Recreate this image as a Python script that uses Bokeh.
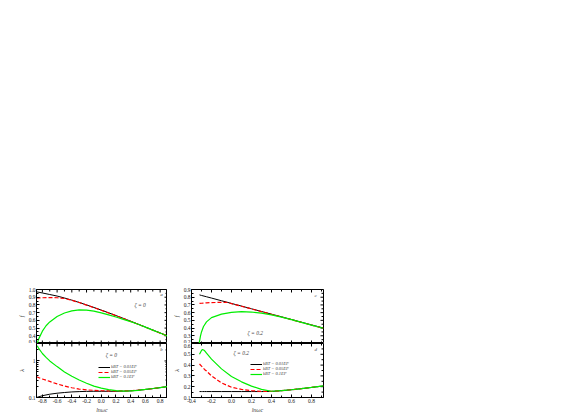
import math
from bokeh.plotting import figure
from bokeh.models import (Range1d, Label, Legend, LegendItem, Spacer, FixedTicker, NumeralTickFormatter)
from bokeh.layouts import column, row
from bokeh.embed import file_html
from bokeh.resources import INLINE

# ---------------- data ----------------
# panel a : zeta = 0, f vs ln(omega_c)
xa = [-0.88, -0.8, -0.7, -0.6, -0.5, -0.4, -0.3, -0.2, -0.1, 0.0, 0.1, 0.2, 0.3, 0.4, 0.5, 0.6, 0.7, 0.8, 0.9]
fa_001 = [0.97, 0.955, 0.935, 0.915, 0.89, 0.862, 0.832, 0.80, 0.767, 0.733, 0.698, 0.662, 0.626, 0.589, 0.551, 0.513, 0.475, 0.437, 0.398]
fa_005 = [0.89, 0.893, 0.895, 0.893, 0.883, 0.860, 0.831, 0.798, 0.765, 0.731, 0.696, 0.660, 0.624, 0.587, 0.549, 0.511, 0.473, 0.435, 0.396]
xa_g = [-0.87, -0.85, -0.8, -0.75, -0.7, -0.6, -0.5, -0.4, -0.3, -0.2, -0.1, 0.0, 0.1, 0.2, 0.3, 0.4, 0.5, 0.6, 0.7, 0.8, 0.9]
fa_01 = [0.30, 0.36, 0.46, 0.53, 0.58, 0.65, 0.695, 0.722, 0.735, 0.733, 0.72, 0.698, 0.672, 0.643, 0.612, 0.583, 0.549, 0.512, 0.474, 0.436, 0.397]

# panel b : zeta = 0, lambda vs ln(omega_c) (log axis)
lb_001 = [0.10, 0.112, 0.123, 0.131, 0.137, 0.142, 0.145, 0.147, 0.148, 0.148, 0.148, 0.148, 0.149, 0.152, 0.158, 0.166, 0.175, 0.186, 0.198]
lb_005 = [0.37, 0.32, 0.275, 0.235, 0.205, 0.185, 0.17, 0.162, 0.157, 0.154, 0.152, 0.151, 0.151, 0.153, 0.159, 0.167, 0.176, 0.187, 0.199]
lb_01 = [2.6, 2.2, 1.6, 1.25, 1.0, 0.7, 0.5, 0.38, 0.30, 0.245, 0.205, 0.18, 0.165, 0.155, 0.15, 0.151, 0.157, 0.166, 0.176, 0.187, 0.199]

# panel c : zeta = 0.2, f
xc = [-0.32, -0.3, -0.25, -0.2, -0.1, -0.05, 0.0, 0.1, 0.2, 0.3, 0.4, 0.5, 0.6, 0.7, 0.8, 0.92]
fc_001 = [0.83, 0.823, 0.806, 0.789, 0.754, 0.737, 0.719, 0.685, 0.65, 0.615, 0.58, 0.546, 0.511, 0.476, 0.441, 0.40]
fc_005 = [0.72, 0.722, 0.727, 0.731, 0.733, 0.735, 0.717, 0.683, 0.648, 0.613, 0.578, 0.544, 0.509, 0.474, 0.439, 0.398]
xc_g = [-0.325, -0.31, -0.3, -0.28, -0.25, -0.2, -0.1, 0.0, 0.1, 0.2, 0.3, 0.4, 0.5, 0.6, 0.7, 0.8, 0.92]
fc_01 = [0.19, 0.30, 0.35, 0.42, 0.48, 0.535, 0.58, 0.603, 0.613, 0.608, 0.593, 0.57, 0.542, 0.509, 0.474, 0.439, 0.398]

# panel d : zeta = 0.2, lambda
xd = [-0.32, -0.3, -0.29, -0.27, -0.25, -0.2, -0.1, 0.0, 0.1, 0.2, 0.3, 0.4, 0.5, 0.6, 0.7, 0.8, 0.92]
ld_001 = [0.155, 0.155, 0.155, 0.155, 0.155, 0.155, 0.155, 0.155, 0.155, 0.155, 0.155, 0.156, 0.163, 0.172, 0.182, 0.193, 0.207]
ld_005 = [0.41, 0.39, 0.38, 0.36, 0.345, 0.30, 0.235, 0.195, 0.175, 0.163, 0.157, 0.156, 0.163, 0.172, 0.182, 0.193, 0.207]
ld_01 = [0.50, 0.535, 0.545, 0.535, 0.51, 0.455, 0.365, 0.295, 0.245, 0.205, 0.175, 0.158, 0.163, 0.172, 0.182, 0.193, 0.207]

legend_labels = ["kBT = 0.01EF", "kBT = 0.05EF", "kBT = 0.1EF"]
zeta_labels = ["ζ = 0", "ζ = 0.2"]
panel_letters = ["a", "b", "c", "d"]

# tick positions
x_left_major = [-0.8, -0.6, -0.4, -0.2, 0.0, 0.2, 0.4, 0.6, 0.8]
x_left_minor = [-0.7, -0.5, -0.3, -0.1, 0.1, 0.3, 0.5, 0.7]
x_right_major = [-0.4, -0.2, 0.0, 0.2, 0.4, 0.6, 0.8]
x_right_minor = [-0.3, -0.1, 0.1, 0.3, 0.5, 0.7, 0.9]
ya_major = [0.3, 0.4, 0.5, 0.6, 0.7, 0.8, 0.9, 1.0]
ya_minor = [0.35, 0.45, 0.55, 0.65, 0.75, 0.85, 0.95]
yb_major = [0.1, 1.0]
yb_minor = [0.2, 0.3, 0.4, 0.5, 0.6, 0.7, 0.8, 0.9, 2.0, 3.0]
yc_major = [0.2, 0.3, 0.4, 0.5, 0.6, 0.7, 0.8, 0.9]
yc_minor = [0.25, 0.35, 0.45, 0.55, 0.65, 0.75, 0.85]
yd_major = [0.1, 0.2, 0.3, 0.4, 0.5, 0.6]
yd_minor = [0.15, 0.25, 0.35, 0.45, 0.55]

# ---------------- style ----------------
FONT = "Liberation Serif"
C_BLACK, C_RED, C_GREEN = "#000000", "#ff0000", "#00ee00"
TICK_FS = "5.5px"


def style_axis(ax, ticker, fmt):
    ax.ticker = ticker
    ax.major_tick_in = 3
    ax.major_tick_out = 0
    ax.minor_tick_in = 2
    ax.minor_tick_out = 0
    ax.axis_line_color = "black"
    ax.major_label_text_font = FONT
    ax.major_label_text_color = "#222222"
    ax.major_label_text_font_size = TICK_FS
    ax.major_label_standoff = 1
    ax.formatter = NumeralTickFormatter(format=fmt)
    ax.axis_label_text_font = FONT
    ax.axis_label_text_font_size = "6px"
    ax.axis_label_text_font_style = "italic"
    ax.axis_label_standoff = 1


def edge_ticks(p, xr, yr, xmaj, xmin, ymaj, ymin, edges):
    """inward tick marks on edges that have no real axis"""
    kw = dict(marker="dash", line_color="black", line_width=1)
    for e in edges:
        if e in ("top", "bottom"):
            yv = yr[1] if e == "top" else yr[0]
            p.scatter(xmaj, [yv] * len(xmaj), size=6, angle=math.pi / 2, **kw)
            p.scatter(xmin, [yv] * len(xmin), size=4, angle=math.pi / 2, **kw)
        else:
            xv = xr[1]
            p.scatter([xv] * len(ymaj), ymaj, size=6, **kw)
            p.scatter([xv] * len(ymin), ymin, size=4, **kw)


def make_fig(xr, yr, ylog, fw, fh, bl, br, bt, bb, xmaj, xmin, ymaj, ymin,
             show_x, ylabel, xlabel, yfmt):
    p = figure(frame_width=fw, frame_height=fh,
               x_range=Range1d(*xr), y_range=Range1d(*yr),
               y_axis_type="log" if ylog else "linear",
               x_axis_location="below" if show_x else None,
               output_backend="svg", toolbar_location=None, title_location=None,
               min_border_left=bl, min_border_right=br, min_border_top=bt, min_border_bottom=bb)
    p.grid.visible = False
    p.outline_line_color = "black"
    p.outline_line_width = 1
    p.background_fill_color = "white"
    p.border_fill_color = "white"
    if show_x:
        style_axis(p.xaxis[0], FixedTicker(ticks=xmaj, minor_ticks=xmin), "0.0")
        p.xaxis[0].axis_label = xlabel
    style_axis(p.yaxis[0], FixedTicker(ticks=ymaj, minor_ticks=ymin), yfmt)
    p.yaxis[0].axis_label = ylabel
    edges = ["top", "right"] + ([] if show_x else ["bottom"])
    edge_ticks(p, xr, yr, xmaj, xmin, ymaj, ymin, edges)
    return p


def add_lines(p, xs1, y1, y2, xs3, y3):
    r1 = p.line(xs1, y1, line_color=C_BLACK, line_width=1)
    r2 = p.line(xs1, y2, line_color=C_RED, line_width=1.2, line_dash="4 2")
    r3 = p.line(xs3, y3, line_color=C_GREEN, line_width=1.2)
    return [r1, r2, r3]


def add_legend(p, rends, loc):
    items = [LegendItem(label=lab, renderers=[r]) for lab, r in zip(legend_labels, rends)]
    lg = Legend(items=items, location=loc, border_line_color=None, background_fill_alpha=0,
                padding=0, margin=0, spacing=0, label_text_font=FONT, label_text_font_size="4.5px",
                label_height=4, glyph_height=4, glyph_width=12, label_standoff=1,
                label_text_font_style="italic", label_text_line_height=0.9)
    p.add_layout(lg)


def add_text(p, x, y, txt, size="5.5px", style="italic"):
    p.add_layout(Label(x=x, y=y, text=txt, text_font=FONT, text_font_size=size,
                       text_font_style=style, text_baseline="middle", text_align="left"))


FW_L, FW_R = 131, 132
FH_T, FH_B = 54, 54
XR_L, XR_R = (-0.88, 0.9), (-0.4, 0.92)
YR_A, YR_B, YR_C, YR_D = (0.3, 1.0), (0.1, 3.0), (0.2, 0.9), (0.1, 0.6)

# panel a
pa = make_fig(XR_L, YR_A, False, FW_L, FH_T, 28, 0, 3, 0, x_left_major, x_left_minor,
              ya_major, ya_minor, False, "f", None, "0.0")
add_lines(pa, xa, fa_001, fa_005, xa_g, fa_01)
add_text(pa, 0.45, 0.795, zeta_labels[0])
add_text(pa, 0.80, 0.93, panel_letters[0], "5px")

# panel b
pb = make_fig(XR_L, YR_B, True, FW_L, FH_B, 28, 0, 0, 0, x_left_major, x_left_minor,
              yb_major, yb_minor, True, "λ", "lnωc", "0.[0]")
rb = add_lines(pb, xa, lb_001, lb_005, xa_g, lb_01)
add_legend(pb, rb, (62, 18))
add_text(pb, 0.06, 1.5, zeta_labels[0])
add_text(pb, 0.80, 2.1, panel_letters[1], "5px")

# panel c
pc = make_fig(XR_R, YR_C, False, FW_R, FH_T, 24, 4, 3, 0, x_right_major, x_right_minor,
              yc_major, yc_minor, False, "f", None, "0.0")
add_lines(pc, xc, fc_001, fc_005, xc_g, fc_01)
add_text(pc, 0.16, 0.34, zeta_labels[1])
add_text(pc, 0.83, 0.82, panel_letters[2], "5px")

# panel d
pd_ = make_fig(XR_R, YR_D, False, FW_R, FH_B, 24, 4, 0, 0, x_right_major, x_right_minor,
               yd_major, yd_minor, True, "λ", "lnωc", "0.0")
rd = add_lines(pd_, xd, ld_001, ld_005, xd, ld_01)
add_legend(pd_, rd, (59, 21))
add_text(pd_, 0.02, 0.51, zeta_labels[1])
add_text(pd_, 0.83, 0.54, panel_letters[3], "5px")

layout = column(Spacer(height=286, width=10),
                row(Spacer(width=8, height=10),
                    column(pa, pb, spacing=0), column(pc, pd_, spacing=0), spacing=0),
                spacing=0)

open("out.html", "w").write(file_html(layout, INLINE))
